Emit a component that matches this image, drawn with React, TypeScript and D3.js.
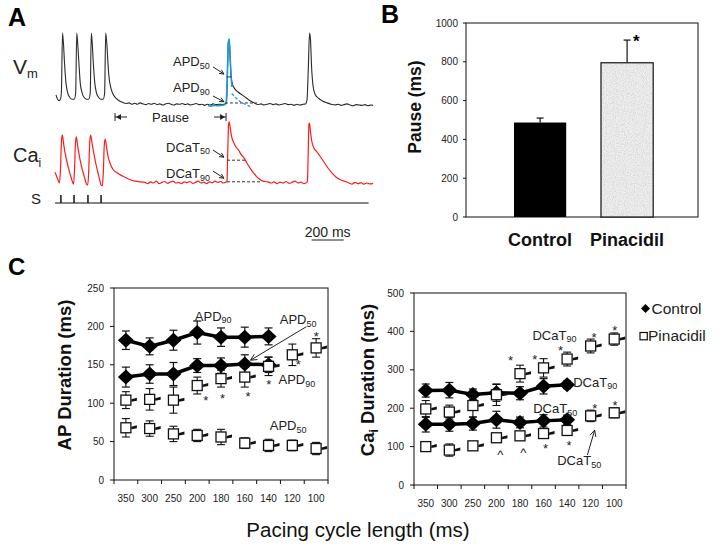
import React from 'react';
import * as d3 from 'd3';

type Pt = [number, number];
const FONT = '"Liberation Sans", Arial, Helvetica, sans-serif';

// ---------------- Panel A : traces (time ms, amplitude % of peak) ----------------
const vmTrace: Pt[] = [
  [6,14],[16,8],[25,6],[34,8],[40,18],[47,100],[53,85],[59,60],[69,30],[78,18],[91,11],[106,8],[120,8],
  [129,16],[136,100],[142,85],[149,60],[158,30],[168,18],[180,11],[197,8],[210,8],
  [220,16],[227,100],[233,85],[239,60],[249,30],[258,18],[271,11],[287,8],[301,8],
  [310,16],[317,100],[324,85],[330,62],[337,40],[347,26],[359,17],[375,11],[394,7],[419,4],[444,2],
  [462,3],[480,1],[498,2.5],[515,1],[533,3],[550,1.5],[568,0.5],[585,2],[603,1],[620,2.5],[638,0.5],
  [655,1.5],[673,0],[690,1.5],[708,2.5],[725,1],[743,0],[760,1.5],[778,1],[795,2],[813,0.5],[830,1.5],
  [848,0],[865,1],[883,2],[900,0.5],[918,1],[935,-0.5],[953,1],[970,0],[988,1.5],[1005,0.5],[1023,1],[1044,0.7],
  [1062,1.4],[1072,4],[1078,49],[1084,88],[1089,90],[1094,69],[1100,42],[1109,29],[1125,22],[1144,18],
  [1169,14],[1194,10],[1219,6],[1244,3],[1269,0.7],
  [1288,1.5],[1306,0],[1325,1],[1344,2],[1363,0.5],[1381,1.5],[1400,0],[1419,1],[1438,2],[1456,0.5],
  [1475,1],[1494,-0.5],[1513,1],[1531,0],[1550,1],[1566,1.4],
  [1575,7],[1583,49],[1591,100],[1597,90],[1603,56],[1612,28],[1625,15],[1644,10],[1669,6],[1700,3],[1731,0.7],
  [1750,0],[1769,1],[1788,-0.5],[1806,0.5],[1825,1.5],[1844,0],[1863,-1],[1881,0.5],[1900,0],[1919,-0.5],
  [1938,0.5],[1956,-1],[1975,0],[1988,-0.5],
];
const vmFitSolid: Pt[] = [
  [956,-1],[975,-1.5],[995,-0.5],[1015,-1],[1035,-0.5],[1055,0],[1068,2],[1074,20],[1078,49],[1084,88],
  [1089,92],[1094,69],[1100,42],[1106,25],
];
const vmFitDashed: Pt[] = [[1104,16],[1150,6],[1198,0],[1231,-3]];
const caTrace: Pt[] = [
  [0,18],[9,12],[19,5],[28,0],[34,22],[41,72],[46,80],[53,67],[62,52],[75,35],[87,22],[100,10],[109,2],[116,-2],
  [122,22],[128,67],[133,77],[141,63],[150,48],[162,32],[175,18],[187,7],[197,-2],[205,-3],
  [211,22],[217,68],[223,80],[231,67],[241,52],[253,35],[266,20],[278,7],[287,-3],[296,-5],
  [302,18],[308,63],[314,73],[322,60],[331,45],[344,33],[362,23],[387,17],[419,12],[456,7],[500,3],[562,1],
  [580,-1],[598,2],[615,0],[633,3],[650,-1],[668,1],[685,2.5],[703,-0.5],[720,1.5],[738,3],[755,0],[773,1],
  [790,-1],[808,2],[825,0.5],[843,2.5],[860,-0.5],[878,1],[895,3],[913,0],[930,1.5],[948,-1],[965,2],
  [983,0.5],[1000,3],[1018,1],[1035,2.5],[1053,0],[1070,1.5],
  [1075,3],[1080,55],[1085,98],[1089,102],[1097,88],[1106,75],[1116,68],[1131,60],[1147,55],[1162,48],
  [1181,42],[1200,33],[1219,25],[1237,18],[1256,12],[1275,7],[1300,3],[1331,2],
  [1350,0],[1369,2],[1388,-1],[1406,1.5],[1425,0],[1444,2.5],[1463,-0.5],[1481,1],[1500,3],[1519,0],
  [1538,1.5],[1556,-1],[1575,1],
  [1578,5],[1583,55],[1587,98],[1591,100],[1597,85],[1606,68],[1619,58],[1637,52],[1656,45],[1681,35],
  [1706,25],[1731,17],[1756,10],[1787,5],[1819,2],
  [1838,0],[1856,-2],[1875,1],[1894,-1],[1913,0.5],[1931,-2],[1950,0],[1969,-1.5],[1988,-0.5],
];
const stimTimes = [37, 119, 206, 288];
const pauseStart = 375;
const pauseEnd = 1069;
const apdMarks = [
  { level: 39, t0: 1072, t1: 1104, dashed: false },
  { level: 2.8, t0: 1062, t1: 1262, dashed: true },
];
const dcatMarks = [
  { level: 38, t0: 1075, t1: 1200 },
  { level: 2, t0: 1075, t1: 1294 },
];
const scaleBarStart = 1604;
const scaleBarLength = 200;

// ---------------- Panel B ----------------
const pauseGroups = ['Control', 'Pinacidil'];
const pauseMeans = [487, 795];
const pauseErrs = [23, 117];
const pauseTicks = [0, 200, 400, 600, 800, 1000];

// ---------------- Panel C ----------------
const cycleLengths = ['350', '300', '250', '200', '180', '160', '140', '120', '100'];
const apd90Ctrl = [182, 174, 182, 192, 186, 186, 187];
const apd90CtrlErr = [12, 11, 13, 15, 12, 13, 11];
const apd50Ctrl = [134, 138, 138, 149, 149, 151, 150];
const apd50CtrlErr = [13, 12, 15, 9, 10, 12, 10];
const apd90Pina = [104, 105, 104, 123, 132, 134, 148, 163, 172];
const apd90PinaErr = [11, 14, 17, 11, 11, 13, 12, 14, 12];
const apd50Pina = [68, 67, 60, 58, 56, 48, 45, 45, 41];
const apd50PinaErr = [12, 10, 10, 8, 10, 7, 8, 7, 8];
const dcat90Ctrl = [246, 247, 236, 240, 239, 257, 261];
const dcat90CtrlErr = [17, 20, 14, 22, 17, 20, 10];
const dcat50Ctrl = [158, 158, 160, 170, 163, 167, 170];
const dcat50CtrlErr = [20, 18, 17, 22, 14, 16, 12];
const dcat90Pina = [198, 190, 207, 235, 290, 305, 328, 362, 380];
const dcat90PinaErr = [22, 18, 30, 28, 22, 24, 18, 18, 16];
const dcat50Pina = [100, 91, 102, 123, 128, 134, 142, 180, 188];
const dcat50PinaErr = [12, 16, 10, 10, 10, 10, 10, 15, 13];
const apTicks = [0, 50, 100, 150, 200, 250];
const caTicks = [0, 100, 200, 300, 400, 500];

const apMarks = [
  { i: 3.36, v: 107, s: '*' }, { i: 4.06, v: 110, s: '*' }, { i: 5.14, v: 112, s: '*' },
  { i: 6.01, v: 127, s: '*' }, { i: 7.25, v: 154, s: '*' }, { i: 8.01, v: 190, s: '*' },
];
const caMarks = [
  { i: 3.6, v: 330, s: '*' }, { i: 4.63, v: 334, s: '*' }, { i: 5.72, v: 356, s: '*' },
  { i: 7.14, v: 391, s: '*' }, { i: 8.02, v: 408, s: '*' }, { i: 7.17, v: 206, s: '*' },
  { i: 8.03, v: 213, s: '*' }, { i: 5.08, v: 102, s: '*' }, { i: 6.08, v: 110, s: '*' },
  { i: 3.16, v: 85, s: '^' }, { i: 4.14, v: 91, s: '^' },
];
const apLabels = [
  { i: 2.9, v: 207.6, main: 'APD', sub: '90' }, { i: 6.47, v: 203, main: 'APD', sub: '50' },
  { i: 6.42, v: 125, main: 'APD', sub: '90' }, { i: 6.05, v: 65, main: 'APD', sub: '50' },
];
const caLabels = [
  { i: 4.53, v: 378, main: 'DCaT', sub: '90' }, { i: 6.26, v: 256, main: 'DCaT', sub: '90' },
  { i: 4.56, v: 187, main: 'DCaT', sub: '50' }, { i: 5.58, v: 52, main: 'DCaT', sub: '50' },
];
const apArrow = { i1: 7.59, v1: 199.6, i2: 5.24, v2: 156 };
const caArrow = { i1: 6.86, v1: 78, i2: 7.17, v2: 143 };

// ---------------- helpers ----------------
function OpenArrow({ x1, y1, x2, y2, head = 6, color = '#222', w = 1 }: any) {
  const a = Math.atan2(y2 - y1, x2 - x1);
  const hx1 = x2 - head * Math.cos(a - 0.45), hy1 = y2 - head * Math.sin(a - 0.45);
  const hx2 = x2 - head * Math.cos(a + 0.45), hy2 = y2 - head * Math.sin(a + 0.45);
  return (
    <g stroke={color} strokeWidth={w} fill="none">
      <line x1={x1} y1={y1} x2={x2} y2={y2} />
      <polyline points={`${hx1},${hy1} ${x2},${y2} ${hx2},${hy2}`} />
    </g>
  );
}

function SubText({ x, y, main, sub, size = 13, subSize = 9, fill = '#222' }: any) {
  return (
    <text x={x} y={y} fontSize={size} fill={fill} fontFamily={FONT}>
      {main}
      <tspan fontSize={subSize} dy={2.5}>{sub}</tspan>
    </text>
  );
}

function PanelA() {
  const xA = d3.scaleLinear().domain([0, 2000]).range([55, 375]);
  const yVm = d3.scaleLinear().domain([0, 100]).range([105, 33]);
  const yCa = d3.scaleLinear().domain([0, 100]).range([183, 123]);
  const lineVm = d3.line<Pt>().x(d => xA(d[0])).y(d => yVm(d[1])).curve(d3.curveMonotoneX);
  const lineCa = d3.line<Pt>().x(d => xA(d[0])).y(d => yCa(d[1])).curve(d3.curveMonotoneX);
  const stimY = 203;
  const pY = 117;
  return (
    <g fontFamily={FONT}>
      <text x={8} y={26} fontSize={25} fontWeight="bold">A</text>
      <text x={13} y={74} fontSize={21} fill="#222">V<tspan fontSize={13} dy={4}>m</tspan></text>
      <text x={13} y={162} fontSize={20} fill="#222">Ca<tspan fontSize={12} dy={5}>i</tspan></text>
      <text x={31} y={204} fontSize={15} fill="#222">S</text>

      <path d={lineVm(vmTrace)!} fill="none" stroke="#2a2a2a" strokeWidth={1.1} />
      <path d={lineVm(vmFitSolid)!} fill="none" stroke="#1e9ad6" strokeWidth={1.6} />
      <path d={lineVm(vmFitDashed)!} fill="none" stroke="#1e9ad6" strokeWidth={1.3} strokeDasharray="3,2" />
      {apdMarks.map((m, k) => (
        <line key={k} x1={xA(m.t0)} x2={xA(m.t1)} y1={yVm(m.level)} y2={yVm(m.level)}
          stroke="#333" strokeWidth={1} strokeDasharray={m.dashed ? '3,2' : undefined} />
      ))}
      <path d={lineCa(caTrace)!} fill="none" stroke="#ff1a1a" strokeWidth={1.2} />
      {dcatMarks.map((m, k) => (
        <line key={k} x1={xA(m.t0)} x2={xA(m.t1)} y1={yCa(m.level)} y2={yCa(m.level)}
          stroke="#333" strokeWidth={1} strokeDasharray="3,2" />
      ))}

      {/* annotations */}
      <SubText x={xA(737.5)} y={yVm(54)} main="APD" sub="50" />
      <SubText x={xA(737.5)} y={yVm(18)} main="APD" sub="90" />
      <OpenArrow x1={xA(987)} y1={yVm(53)} x2={xA(1056)} y2={yVm(43)} head={5} />
      <OpenArrow x1={xA(987)} y1={yVm(12.5)} x2={xA(1056)} y2={yVm(4.6)} head={5} />
      <SubText x={xA(694)} y={yCa(52)} main="DCaT" sub="50" />
      <SubText x={xA(694)} y={yCa(8)} main="DCaT" sub="90" />
      <OpenArrow x1={xA(987)} y1={yCa(55)} x2={xA(1056)} y2={yCa(43)} head={5} />
      <OpenArrow x1={xA(987)} y1={yCa(20)} x2={xA(1056)} y2={yCa(8)} head={5} />

      {/* pause */}
      <g stroke="#222" strokeWidth={1}>
        <line x1={xA(pauseStart)} x2={xA(pauseStart)} y1={pY - 4} y2={pY + 4} />
        <line x1={xA(pauseStart)} x2={xA(pauseStart) + 12} y1={pY} y2={pY} />
        <line x1={xA(pauseEnd)} x2={xA(pauseEnd)} y1={pY - 4} y2={pY + 4} />
        <line x1={xA(pauseEnd) - 12} x2={xA(pauseEnd)} y1={pY} y2={pY} />
      </g>
      <path d={`M${xA(pauseStart) + 1},${pY} l5,-3 l0,6 z`} fill="#222" />
      <path d={`M${xA(pauseEnd) - 1},${pY} l-5,-3 l0,6 z`} fill="#222" />
      <text x={(xA(pauseStart) + xA(pauseEnd)) / 2} y={pY + 4.5} fontSize={13} textAnchor="middle" fill="#222">Pause</text>

      {/* stimulus */}
      <line x1={xA(0)} x2={xA(1960)} y1={stimY} y2={stimY} stroke="#111" strokeWidth={1.2} />
      {stimTimes.map((t, k) => (
        <line key={k} x1={xA(t)} x2={xA(t)} y1={stimY} y2={stimY - 8} stroke="#111" strokeWidth={1.5} />
      ))}

      {/* scale bar */}
      <text x={xA(scaleBarStart + scaleBarLength / 2)} y={236.5} fontSize={14} textAnchor="middle" fill="#222">200 ms</text>
      <line x1={xA(scaleBarStart)} x2={xA(scaleBarStart + scaleBarLength)} y1={240} y2={240} stroke="#222" strokeWidth={1.2} />
    </g>
  );
}

function PanelB() {
  const xB = d3.scaleBand<string>().domain(pauseGroups).range([470.5, 696.7]).paddingInner(0.4).paddingOuter(0.5);
  const yB = d3.scaleLinear().domain([0, 1000]).range([217, 23]);
  const bw = xB.bandwidth();
  const left = 466, right = 698;
  return (
    <g fontFamily={FONT}>
      <defs>
        <filter id="speckle" x="0" y="0" width="1" height="1">
          <feTurbulence type="fractalNoise" baseFrequency="0.9" numOctaves="2" seed="4" result="noise" />
          <feColorMatrix in="noise" type="matrix"
            values="0 0 0 0 0.55  0 0 0 0 0.55  0 0 0 0 0.55  1.6 0 0 0 -0.65" result="spk" />
          <feComposite in="spk" in2="SourceGraphic" operator="in" result="spk2" />
          <feMerge><feMergeNode in="SourceGraphic" /><feMergeNode in="spk2" /></feMerge>
        </filter>
      </defs>
      <text x={381} y={23} fontSize={25} fontWeight="bold">B</text>
      <rect x={left} y={yB(1000)} width={right - left} height={yB(0) - yB(1000)} fill="none" stroke="#111" strokeWidth={1} />
      {pauseTicks.map(t => (
        <g key={t}>
          <line x1={left - 3} x2={left} y1={yB(t)} y2={yB(t)} stroke="#111" />
          <text x={left - 8} y={yB(t) + 3.5} fontSize={10} textAnchor="end" fill="#222">{t}</text>
        </g>
      ))}
      {pauseGroups.map((g, k) => {
        const x0 = xB(g)!;
        const cx = x0 + bw / 2;
        return (
          <g key={g}>
            <line x1={cx} x2={cx} y1={yB(pauseMeans[k])} y2={yB(pauseMeans[k] + pauseErrs[k])} stroke="#111" strokeWidth={1.2} />
            <line x1={cx - 3.5} x2={cx + 3.5} y1={yB(pauseMeans[k] + pauseErrs[k])} y2={yB(pauseMeans[k] + pauseErrs[k])} stroke="#111" strokeWidth={1.2} />
            {k === 0 ? (
              <rect x={x0} y={yB(pauseMeans[k])} width={bw} height={yB(0) - yB(pauseMeans[k])} fill="#000" />
            ) : (
              <g>
                <rect x={x0} y={yB(pauseMeans[k])} width={bw} height={yB(0) - yB(pauseMeans[k])} fill="#eeeeee" filter="url(#speckle)" />
                <rect x={x0} y={yB(pauseMeans[k])} width={bw} height={yB(0) - yB(pauseMeans[k])} fill="none" stroke="#111" strokeWidth={1.2} />
              </g>
            )}
            <text x={cx} y={246} fontSize={18} fontWeight="bold" textAnchor="middle" fill="#111">{g}</text>
          </g>
        );
      })}
      <text x={xB('Pinacidil')! + bw / 2 + 9.3} y={yB(927) + 9.5} fontSize={17} fontWeight="bold" textAnchor="middle">*</text>
      <text transform={`translate(415,107) rotate(-90)`} fontSize={17.5} fontWeight="bold" textAnchor="middle" dy="0.35em" fill="#111">Pause (ms)</text>
    </g>
  );
}

function DurationPlot({ x, y, ticks, ctrl, pina, marks, labels, arrow, tickLabelDy }: any) {
  const bw = x.bandwidth();
  const [x0, x1] = x.range();
  const [yb, yt] = y.range();
  const cx = (i: number) => x0 + bw * (i + 0.5);
  const line = d3.line<number>().x((_, i) => cx(i)).y(d => y(d));
  const cap = 4;
  return (
    <g fontFamily={FONT}>
      <rect x={x0} y={yt} width={x1 - x0} height={yb - yt} fill="none" stroke="#111" strokeWidth={1} />
      {ticks.map((t: number) => (
        <g key={t}>
          <line x1={x0 - 4} x2={x0} y1={y(t)} y2={y(t)} stroke="#111" />
          <text x={x0 - 10} y={y(t) + 3.5} fontSize={10} textAnchor="end" fill="#222">{t}</text>
        </g>
      ))}
      {cycleLengths.map((c, i) => (
        <g key={c}>
          <line x1={x(c)} x2={x(c)} y1={yb} y2={yb + 4} stroke="#111" />
          <text x={cx(i)} y={yb + tickLabelDy} fontSize={10} textAnchor="middle" fill="#222">{c}</text>
        </g>
      ))}
      <line x1={x1} x2={x1} y1={yb} y2={yb + 4} stroke="#111" />

      {ctrl.map((s: any, k: number) => (
        <g key={'c' + k}>
          {s.vals.map((v: number, i: number) => (
            <g key={i} stroke="#111" strokeWidth={1.2}>
              <line x1={cx(i)} x2={cx(i)} y1={y(v - s.errs[i])} y2={y(v + s.errs[i])} />
              <line x1={cx(i) - cap} x2={cx(i) + cap} y1={y(v - s.errs[i])} y2={y(v - s.errs[i])} />
              <line x1={cx(i) - cap} x2={cx(i) + cap} y1={y(v + s.errs[i])} y2={y(v + s.errs[i])} />
            </g>
          ))}
          <path d={line(s.vals)!} fill="none" stroke="#000" strokeWidth={3.5} />
          {s.vals.map((v: number, i: number) => (
            <path key={i} d={`M${cx(i)},${y(v) - 7.5}L${cx(i) + 8},${y(v)}L${cx(i)},${y(v) + 7.5}L${cx(i) - 8},${y(v)}Z`} fill="#000" />
          ))}
        </g>
      ))}
      {pina.map((s: any, k: number) => (
        <g key={'p' + k}>
          {s.vals.map((v: number, i: number) => {
            const px = cx(i), py = y(v);
            return (
              <g key={i}>
                <g stroke="#111" strokeWidth={1.1}>
                  <line x1={px} x2={px} y1={y(v - s.errs[i])} y2={y(v + s.errs[i])} />
                  <line x1={px - cap} x2={px + cap} y1={y(v - s.errs[i])} y2={y(v - s.errs[i])} />
                  <line x1={px - cap} x2={px + cap} y1={y(v + s.errs[i])} y2={y(v + s.errs[i])} />
                </g>
                <rect x={px - 5} y={py - 5} width={10} height={10} fill="#fff" stroke="#111" strokeWidth={1.3} />
                <path d={`M${px + 5.5},${py - 1}L${px + 11},${py - 2.5}L${px + 11},${py + 0.5}L${px + 5.5},${py + 1.5}Z`} fill="#111" />
              </g>
            );
          })}
        </g>
      ))}
      {marks.map((m: any, k: number) => (
        <text key={k} x={cx(m.i)} y={y(m.v) + 7} fontSize={13} textAnchor="middle" fill="#222">{m.s}</text>
      ))}
      {labels.map((l: any, k: number) => (
        <SubText key={k} x={cx(l.i)} y={y(l.v)} main={l.main} sub={l.sub} />
      ))}
      <OpenArrow x1={cx(arrow.i1)} y1={y(arrow.v1)} x2={cx(arrow.i2)} y2={y(arrow.v2)} head={7} />
    </g>
  );
}

function PanelC() {
  const xL = d3.scaleBand<string>().domain(cycleLengths).range([114, 328]);
  const yL = d3.scaleLinear().domain([0, 250]).range([480, 288]);
  const xR = d3.scaleBand<string>().domain(cycleLengths).range([414, 626]);
  const yR = d3.scaleLinear().domain([0, 500]).range([485, 293]);
  return (
    <g fontFamily={FONT}>
      <text x={8} y={275} fontSize={24} fontWeight="bold">C</text>
      <DurationPlot x={xL} y={yL} ticks={apTicks} tickLabelDy={21.5}
        ctrl={[{ vals: apd90Ctrl, errs: apd90CtrlErr }, { vals: apd50Ctrl, errs: apd50CtrlErr }]}
        pina={[{ vals: apd90Pina, errs: apd90PinaErr }, { vals: apd50Pina, errs: apd50PinaErr }]}
        marks={apMarks} labels={apLabels} arrow={apArrow} />
      <DurationPlot x={xR} y={yR} ticks={caTicks} tickLabelDy={21.5}
        ctrl={[{ vals: dcat90Ctrl, errs: dcat90CtrlErr }, { vals: dcat50Ctrl, errs: dcat50CtrlErr }]}
        pina={[{ vals: dcat90Pina, errs: dcat90PinaErr }, { vals: dcat50Pina, errs: dcat50PinaErr }]}
        marks={caMarks} labels={caLabels} arrow={caArrow} />
      <text transform="translate(65,375) rotate(-90)" fontSize={18.5} fontWeight="bold" textAnchor="middle" dy="0.35em" fill="#111">AP Duration (ms)</text>
      <text transform="translate(368,380) rotate(-90)" fontSize={18.5} fontWeight="bold" textAnchor="middle" dy="0.35em" fill="#111">
        Ca<tspan fontSize={12} dy={4}>i</tspan><tspan dy={-4}> Duration (ms)</tspan>
      </text>
      <text x={358} y={537} fontSize={20.5} textAnchor="middle" fill="#111">Pacing cycle length (ms)</text>

      {/* legend */}
      <path d="M645.5,304 L650,308.5 L645.5,313 L641,308.5 Z" fill="#000" />
      <text x={651.5} y={313.5} fontSize={15.5} fill="#222">Control</text>
      <rect x={640} y={332.5} width={7.3} height={7.3} fill="#fff" stroke="#111" strokeWidth={1.2} />
      <text x={648} y={340.7} fontSize={15.5} fill="#222">Pinacidil</text>
    </g>
  );
}

export default function App() {
  return (
    <svg width={718} height={547} viewBox="0 0 718 547"
      style={{ position: 'absolute', left: 0, top: 0, background: '#fff' }}>
      <rect x={0} y={0} width={718} height={547} fill="#fff" />
      <PanelA />
      <PanelB />
      <PanelC />
    </svg>
  );
}
